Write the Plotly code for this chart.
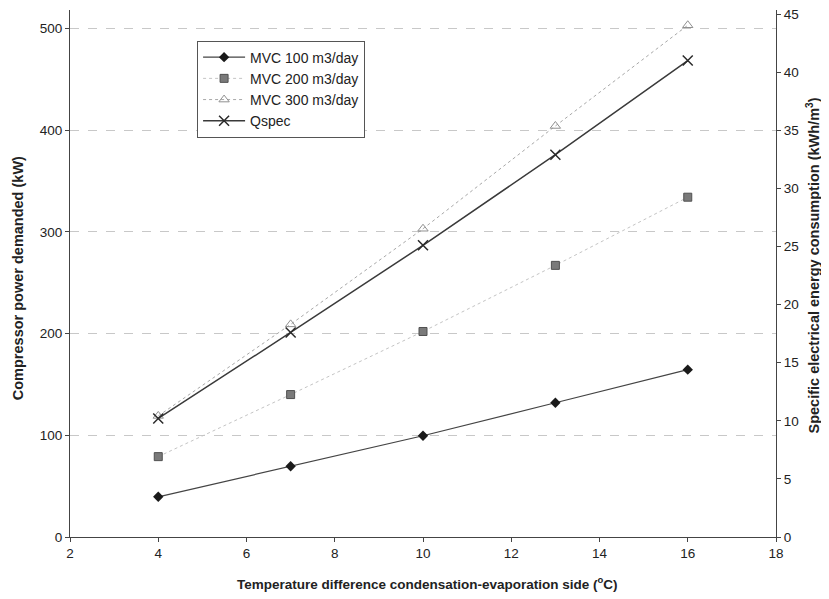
import plotly.graph_objects as go

x_vals = [4, 7, 10, 13, 16]
mvc100 = [39.5, 69.5, 99.5, 132, 164.5]
mvc200 = [79, 140, 202, 267, 334]
mvc300 = [119, 209, 303, 404, 503]
qspec = [10.2, 17.6, 25.1, 32.9, 41.0]

x_ticks = [2, 4, 6, 8, 10, 12, 14, 16, 18]
left_ticks = [0, 100, 200, 300, 400, 500]
right_ticks = [0, 5, 10, 15, 20, 25, 30, 35, 40, 45]

x_title = "<b>Temperature difference condensation-evaporation side (<sup>o</sup>C)</b>"
y_title = "<b>Compressor power demanded (kW)</b>"
y2_title = "<b>Specific electrical energy consumption (kWh/m<sup>3</sup>)</b>"

FONT = "Liberation Sans, Arial, sans-serif"

fig = go.Figure()
fig.add_trace(go.Scatter(
    x=x_vals, y=mvc100, name="MVC 100 m3/day", mode="lines+markers",
    line=dict(color="#444444", width=1.2),
    marker=dict(symbol="diamond", size=8, color="#1a1a1a")))
fig.add_trace(go.Scatter(
    x=x_vals, y=mvc200, name="MVC 200 m3/day", mode="lines+markers",
    line=dict(color="#c4c4c4", width=1, dash="dot"),
    marker=dict(symbol="square", size=8, color="#7a7a7a",
                line=dict(color="#505050", width=1))))
fig.add_trace(go.Scatter(
    x=x_vals, y=mvc300, name="MVC 300 m3/day", mode="lines+markers",
    line=dict(color="#a8a8a8", width=1, dash="dot"),
    marker=dict(symbol="triangle-up-open", size=9, color="#909090",
                line=dict(width=1))))
fig.add_trace(go.Scatter(
    x=x_vals, y=qspec, name="Qspec", mode="lines+markers", yaxis="y2",
    line=dict(color="#3a3a3a", width=1.5),
    marker=dict(symbol="x-thin-open", size=10, color="#2a2a2a",
                line=dict(width=1.5, color="#2a2a2a"))))

# page body has an 8px margin: size and margins compensate for it
fig.update_layout(
    width=821, height=591,
    margin=dict(l=62, r=53, t=2, b=62),
    paper_bgcolor="white", plot_bgcolor="white",
    font=dict(family=FONT, size=13, color="#222222"),
    showlegend=True,
    legend=dict(x=0.18, y=0.942, xanchor="left", yanchor="top",
                bgcolor="white", bordercolor="#555555", borderwidth=1,
                font=dict(family=FONT, size=14, color="#222222"),
                tracegroupgap=0, itemwidth=42),
    xaxis=dict(range=[2, 18], tickvals=x_ticks, ticks="outside", ticklen=4,
               tickcolor="#444", showline=True, linecolor="#444", linewidth=1,
               showgrid=False, zeroline=False, automargin=False,
               ticklabeloverflow="allow", tickfont=dict(size=13.5)),
    yaxis=dict(range=[0, 518], tickvals=left_ticks, ticks="outside", ticklen=4,
               tickcolor="#444", showline=True, linecolor="#444", linewidth=1,
               showgrid=True, gridcolor="#c8c8c8", griddash="dash", gridwidth=1,
               zeroline=False, automargin=False, ticklabeloverflow="allow",
               tickfont=dict(size=13.5)),
    yaxis2=dict(range=[0, 45.35], tickvals=right_ticks, overlaying="y", side="right",
                ticks="outside", ticklen=4, tickcolor="#444",
                showline=True, linecolor="#444", linewidth=1,
                showgrid=False, zeroline=False, automargin=False,
                ticklabeloverflow="allow", tickfont=dict(size=13.5)),
    annotations=[
        dict(text=x_title, xref="paper", yref="paper", x=0.506, y=-0.087,
             xanchor="center", yanchor="middle", showarrow=False,
             font=dict(family=FONT, size=13.5, color="#222222")),
        dict(text=y_title, xref="paper", yref="paper", x=-0.0737, y=0.491,
             xanchor="center", yanchor="middle", textangle=-90, showarrow=False,
             font=dict(family=FONT, size=14.5, color="#222222")),
        dict(text=y2_title, xref="paper", yref="paper", x=1.053, y=0.516,
             xanchor="center", yanchor="middle", textangle=-90, showarrow=False,
             font=dict(family=FONT, size=14.5, color="#222222")),
    ],
)

fig.write_html("out.html")
